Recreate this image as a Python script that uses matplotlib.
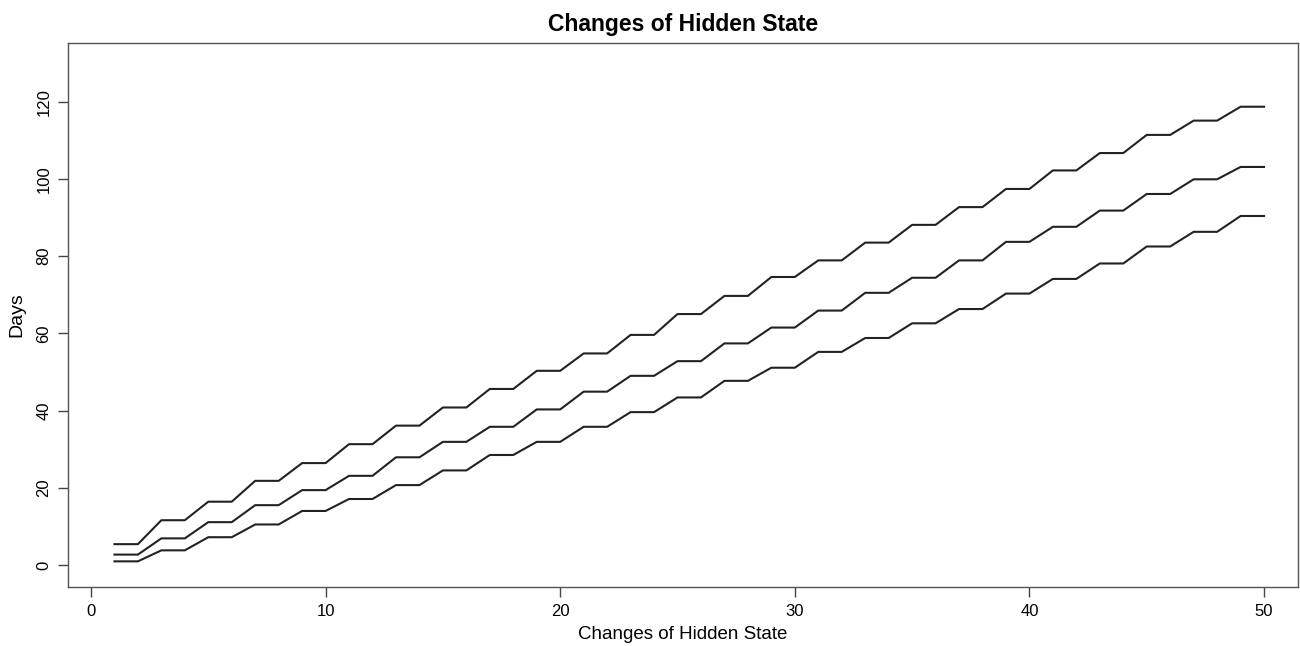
import numpy as np
import matplotlib
matplotlib.use("Agg")
import matplotlib.pyplot as plt

plt.rcParams['font.family'] = ['Liberation Sans', 'DejaVu Sans']

# niveles de cada par de cambios (x = 1-2, 3-4, ..., 49-50)
upper = [5.4, 11.6, 16.4, 21.8, 26.4, 31.3, 36.1, 40.8, 45.6, 50.3, 54.8, 59.6, 65.0,
         69.7, 74.6, 78.9, 83.5, 88.1, 92.7, 97.4, 102.2, 106.7, 111.4, 115.1, 118.7]
middle = [2.7, 6.9, 11.1, 15.5, 19.4, 23.1, 27.9, 31.9, 35.8, 40.3, 44.9, 49.0, 52.8,
          57.4, 61.5, 65.9, 70.5, 74.4, 78.9, 83.7, 87.6, 91.8, 96.1, 99.9, 103.1]
lower = [0.95, 3.8, 7.2, 10.5, 14.0, 17.1, 20.7, 24.5, 28.5, 31.9, 35.8, 39.6, 43.4,
         47.7, 51.1, 55.2, 58.8, 62.6, 66.3, 70.3, 74.1, 78.1, 82.5, 86.3, 90.4]

x = np.arange(1, 51)
xticks = [0, 10, 20, 30, 40, 50]
yticks = [0, 20, 40, 60, 80, 100, 120]

fig = plt.figure(figsize=(13, 6.46), dpi=100)
ax = fig.add_axes([0.0523, 0.0913, 0.9462, 0.8421])

for serie in (upper, middle, lower):
    ax.plot(x, np.repeat(serie, 2), color="#222222", lw=1.5)

ax.set_xlim(-0.98, 51.45)
ax.set_ylim(-5.7, 135.2)
ax.set_xticks(xticks)
ax.set_yticks(yticks)
ax.set_yticklabels([str(t) for t in yticks], rotation=90, va="center")
ax.tick_params(direction="out", length=7, width=1, colors="#444444", labelcolor="black",
               labelsize=12, pad=5)
for s in ax.spines.values():
    s.set_color("#555555")
    s.set_linewidth(1)

ax.set_title("Changes of Hidden State", fontsize=16.5, fontweight="bold", pad=9)
ax.set_xlabel("Changes of Hidden State", fontsize=13.5, labelpad=5)
ax.set_ylabel("Days", fontsize=14, labelpad=8)

fig.savefig("out.png", dpi=100)
